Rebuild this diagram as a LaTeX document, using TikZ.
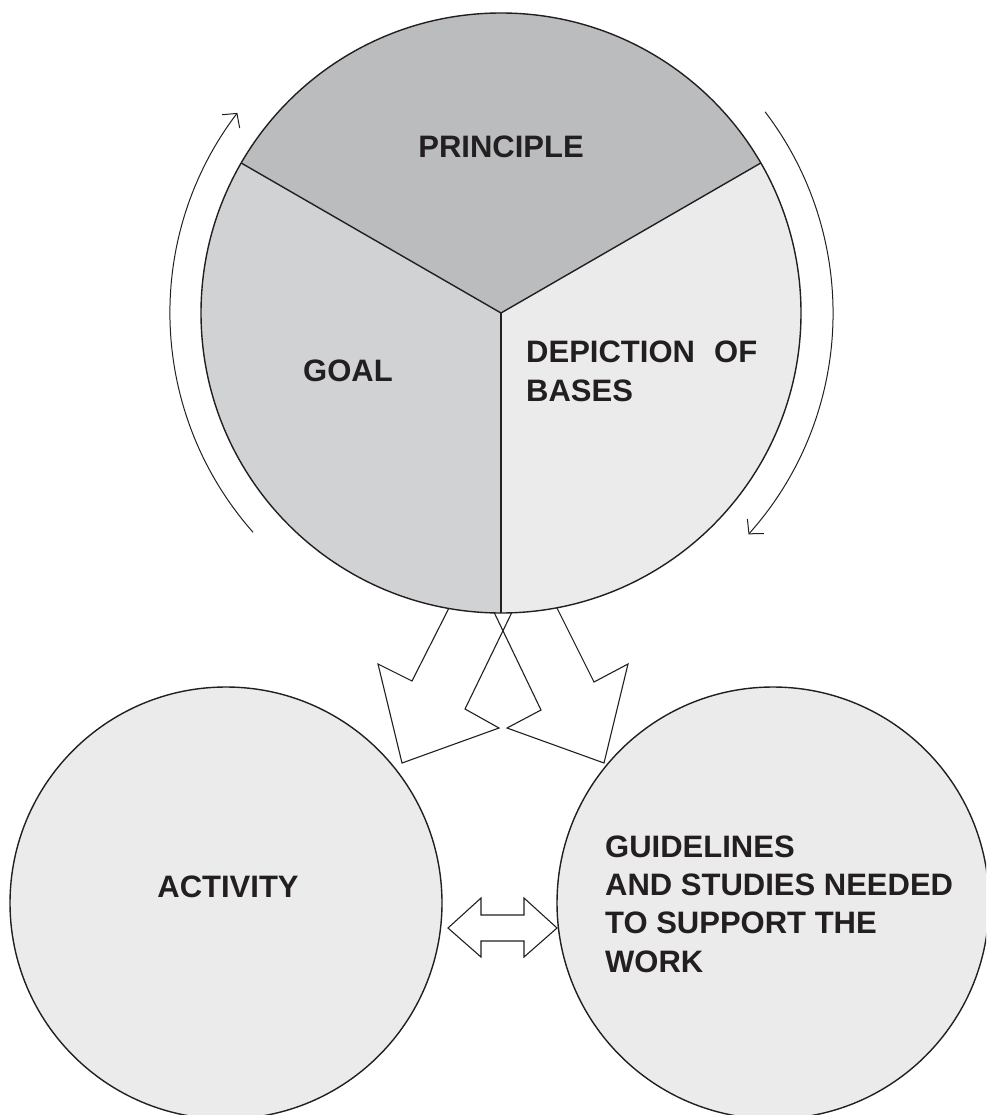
\documentclass[tikz,border=0pt]{standalone}
\usepackage{fontspec}
\setmainfont{Liberation Sans}
\usetikzlibrary{arrows.meta}

\definecolor{ink}{HTML}{231F20}
\definecolor{shadeA}{HTML}{BBBCBE}
\definecolor{shadeB}{HTML}{D1D2D4}
\definecolor{shadeC}{HTML}{EBEBEC}

\begin{document}
\begin{tikzpicture}[x=1pt, y=-1pt,
  label/.style={font=\fontsize{31}{38.3}\selectfont\bfseries, text=ink, inner sep=0pt},
  outline/.style={draw=ink, line width=1.4pt},
  blockarrow/.style={draw=ink, line width=1.1pt, line join=miter},
  cyclearrow/.style={draw=ink, line width=1pt, -{Straight Barb[length=10pt,width=22pt,line width=1pt]}}
]
\useasboundingbox (0,0) rectangle (986,1115);
\begin{scope}
\clip (0,0) rectangle (986,1115);

% centre of the upper disc
\coordinate (c) at (501,313);

% block arrows leading from the upper disc to the lower discs
\draw[blockarrow] (450,606) -- (412,681) -- (378,664) -- (402,763) -- (499,728) -- (465,709) -- (514,608);
\draw[blockarrow] (556,606) -- (594,682) -- (628,664) -- (604,763) -- (507,728) -- (541,710) -- (492,608);

% upper disc split into three sectors
\fill[shadeA] (c) -- (241.2,163) arc[start angle=-150, end angle=-30, radius=300] -- cycle;
\fill[shadeB] (c) -- (501,613) arc[start angle=90, end angle=210, radius=300] -- cycle;
\fill[shadeC] (c) -- (760.8,163) arc[start angle=-30, end angle=90, radius=300] -- cycle;
\draw[outline] (c) circle[radius=300];
\draw[outline] (c) -- (241.2,163);
\draw[outline] (c) -- (760.8,163);
\draw[outline] (c) -- (501,613);

% circular arrows around the upper disc
\draw[cyclearrow] ([shift={(-221.5:331)}]c) arc[start angle=-221.5, end angle=-142.8, radius=331];
\draw[cyclearrow] ([shift={(-37.3:332)}]c) arc[start angle=-37.3, end angle=41.8, radius=332];

% lower discs
\node[circle, minimum size=432pt, inner sep=0pt, fill=shadeC, outline] (act) at (226,903) {};
\node[circle, minimum size=432pt, inner sep=0pt, fill=shadeC, outline] (gui) at (773,903) {};

% two-way arrow between the lower discs
\draw[blockarrow, fill=white] (448,928) -- (481,898) -- (481,915) -- (524,915) -- (524,898) -- (557,928)
  -- (524,957) -- (524,941) -- (481,941) -- (481,957) -- cycle;

% labels (multi-line blocks are anchored at the baseline of their last line)
\node[label, anchor=base] (tprin) at (501,158) {PRINCIPLE};
\node[label, anchor=base] (tgoal) at (348,381) {GOAL};
\node[label, anchor=base west, align=left] (tdep) at (526,401) {DEPICTION\hspace{0.62em}OF\\BASES};
\node[label, anchor=base] (tact) at (228,897) {ACTIVITY};
\node[label, anchor=base west, align=left] (tgui) at (605,972)
  {GUIDELINES\\AND STUDIES NEEDED\\TO SUPPORT THE\\WORK};
\end{scope}
\end{tikzpicture}
\end{document}
